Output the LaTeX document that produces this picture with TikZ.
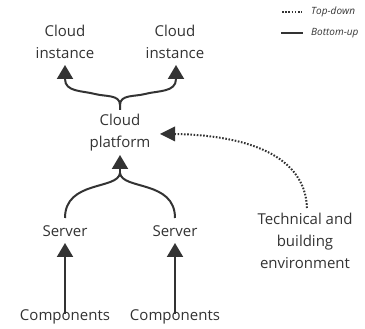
\documentclass[tikz,border=0pt]{standalone}
\usepackage{fontspec}
\setmainfont{Open Sans}
\usetikzlibrary{arrows.meta,calc}
\definecolor{ink}{HTML}{333333}
\tikzset{
  lbl/.style={font=\fontsize{15}{22}\selectfont, text=ink, align=center, inner sep=0pt},
  leg/.style={font=\fontsize{10}{12}\selectfont\itshape, text=ink, anchor=west, inner sep=0pt},
  conn/.style={draw=ink, line width=2pt, -{Triangle[width=16pt 0 0,length=14pt 0 0]}},
  fork/.style={draw=ink, line width=2pt},
  topdown/.style={draw=ink, line width=2pt, dash pattern=on 1.6pt off 1.6pt},
}
\begin{document}
\begin{tikzpicture}[x=1pt,y=-1pt]
\useasboundingbox (0,0) rectangle (365,329);
% nodes
\node[lbl] (ci1) at (65,42) {Cloud\\instance};
\node[lbl] (ci2) at (175,42) {Cloud\\instance};
\node[lbl] (cp) at (120,133) {Cloud\\platform};
\node[lbl] (s1) at (65,231) {Server};
\node[lbl] (s2) at (175,231) {Server};
\node[lbl] (c1) at (65,317) {Components};
\node[lbl] (c2) at (175,317) {Components};
\node[lbl] (te) at (305,241) {Technical and\\building\\environment};
% legend
\coordinate (l1a) at (282,12); \coordinate (l1b) at (302,12);
\coordinate (l2a) at (281,33); \coordinate (l2b) at (303,33);
\node[leg] (ltd) at (311,12) {Top-down};
\node[leg] (lbu) at (311,33) {Bottom-up};
\draw[topdown] (l1a) -- (l1b);
\draw[fork] (l2a) -- (l2b);
% components -> servers
\coordinate (c1t) at ($(c1.north)+(0,4)$);
\coordinate (c2t) at ($(c2.north)+(0,4)$);
\coordinate (s1b) at (65,243);
\coordinate (s2b) at (175,243);
\draw[conn] (c1t) -- (s1b);
\draw[conn] (c2t) -- (s2b);
% servers -> platform
\coordinate (s1t) at (65,218);
\coordinate (s2t) at (175,218);
\coordinate (j1) at (120,173);
\coordinate (cpb) at (120,155);
\draw[fork] (s1t) .. controls (65,180) and (118,190) .. (j1);
\draw[fork] (s2t) .. controls (175,180) and (122,190) .. (j1);
\draw[conn] (j1) -- (cpb);
% platform -> instances
\coordinate (j2) at (120,110);
\coordinate (j2b) at (120,105);
\coordinate (m1) at (95,94);
\coordinate (m2) at (145,94);
\coordinate (ci1b) at (65,65);
\coordinate (ci2b) at (176,65);
\draw[fork] (j2) -- (j2b) to[out=90,in=-15] (m1) to[out=165,in=-90] (65,79);
\draw[fork] (j2b) to[out=90,in=195] (m2) to[out=15,in=-90] (176,79);
\draw[conn] (65,80) -- (ci1b);
\draw[conn] (176,80) -- (ci2b);
% top-down
\coordinate (tet) at (307,208);
\coordinate (cpr) at (160,134);
\draw[topdown] (tet) .. controls (305,150) and (235,135) .. (175,134);
\draw[draw=none,fill=ink] (cpr) -- (175,126.5) -- (175,141.5) -- cycle;
\end{tikzpicture}
\end{document}
